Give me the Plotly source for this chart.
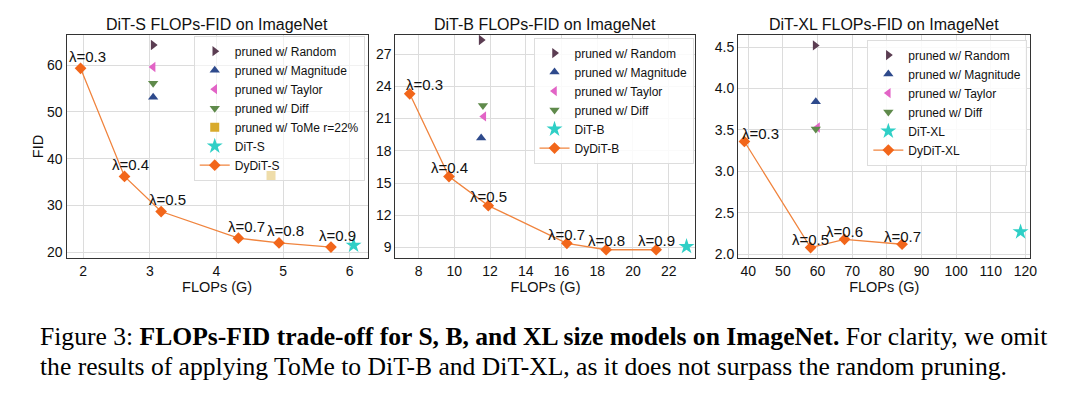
import plotly.graph_objects as go
from plotly.subplots import make_subplots

# ---------------- data ----------------
# DiT-S panel
s_dydit_flops = [1.96, 2.62, 3.17, 4.33, 4.94, 5.72]
s_dydit_fid = [59.3, 36.2, 28.7, 23.0, 22.0, 21.1]
s_lambdas = ["λ=0.3", "λ=0.4", "λ=0.5", "λ=0.7", "λ=0.8", "λ=0.9"]
s_random = (3.05, 64.3)
s_magnitude = (3.05, 53.1)
s_taylor = (3.05, 59.6)
s_diff = (3.05, 56.1)
s_tome = (4.82, 36.4)
s_dit = (6.06, 21.5)

# DiT-B panel
b_dydit_flops = [7.5, 9.7, 11.9, 16.3, 18.5, 21.3]
b_dydit_fid = [23.3, 15.6, 12.9, 9.4, 8.8, 8.8]
b_lambdas = ["λ=0.3", "λ=0.4", "λ=0.5", "λ=0.7", "λ=0.8", "λ=0.9"]
b_random = (11.5, 28.3)
b_magnitude = (11.5, 19.2)
b_taylor = (11.65, 21.2)
b_diff = (11.6, 22.2)
b_dit = (23.0, 9.1)

# DiT-XL panel
xl_dydit_flops = [38.9, 58.0, 67.8, 84.4]
xl_dydit_fid = [3.36, 2.08, 2.18, 2.12]
xl_lambdas = ["λ=0.3", "λ=0.5", "λ=0.6", "λ=0.7"]
xl_random = (59.3, 4.52)
xl_magnitude = (59.5, 3.84)
xl_taylor = (60.0, 3.53)
xl_diff = (59.5, 3.51)
xl_dit = (118.6, 2.27)

titles = ["DiT-S FLOPs-FID on ImageNet", "DiT-B FLOPs-FID on ImageNet", "DiT-XL FLOPs-FID on ImageNet"]
caption_line1 = ("Figure 3: <b>FLOPs-FID trade-off for S, B, and XL size models on ImageNet.</b> "
                 "For clarity, we omit")
caption_line2 = "the results of applying ToMe to DiT-B and DiT-XL, as it does not surpass the random pruning."

# ---------------- styles ----------------
C_RANDOM = "#5b3d52"
C_MAG = "#2e4a8c"
C_TAYLOR = "#e264c6"
C_DIFF = "#5f8a4b"
C_TOME = "#d8aa2c"
C_DIT = "#2fcfc6"
C_DYDIT = "#f2661a"
C_LINE = "#f0843e"
FONT = "Liberation Sans, Arial, sans-serif"

# label pixel offsets per panel (style only)
lab_xshift = [[7, 6, 6, 8, 6, 7], [15, 0, 0, 0, 0, 0], [16, 0, 0, 0]]
lab_yshift = [1.5, -1.5, -2.5]

fig = make_subplots(rows=1, cols=3)

def add_panel(col, legend, random, mag, taylor, diff, tome, dit, dit_name,
              fl, fid, lams, dy_name):
    xa = "x" if col == 1 else f"x{col}"
    ya = "y" if col == 1 else f"y{col}"
    def sc(pt, name, sym, color, size):
        fig.add_trace(go.Scatter(x=[pt[0]], y=[pt[1]], mode="markers", name=name,
                                 marker=dict(symbol=sym, color=color, size=size),
                                 legend=legend), row=1, col=col)
    sc(random, "pruned w/ Random", "triangle-right", C_RANDOM, 9)
    sc(mag, "pruned w/ Magnitude", "triangle-up", C_MAG, 9)
    sc(taylor, "pruned w/ Taylor", "triangle-left", C_TAYLOR, 9)
    sc(diff, "pruned w/ Diff", "triangle-down", C_DIFF, 9)
    if tome is not None:
        sc(tome, "pruned w/ ToMe r=22%", "square", C_TOME, 9)
    sc(dit, dit_name, "star", C_DIT, 12)
    fig.add_trace(go.Scatter(x=fl, y=fid, mode="lines+markers", name=dy_name,
                             line=dict(color=C_LINE, width=1.3),
                             marker=dict(symbol="diamond", color=C_DYDIT, size=9),
                             legend=legend), row=1, col=col)
    for k, (xv, yv, t) in enumerate(zip(fl, fid, lams)):
        fig.add_annotation(x=xv, y=yv, xref=xa, yref=ya, text=t, showarrow=False,
                           xanchor="center", yanchor="bottom",
                           xshift=lab_xshift[col - 1][k], yshift=lab_yshift[col - 1],
                           font=dict(family=FONT, size=15, color="#111"))

add_panel(1, "legend", s_random, s_magnitude, s_taylor, s_diff, s_tome, s_dit, "DiT-S",
          s_dydit_flops, s_dydit_fid, s_lambdas, "DyDiT-S")
add_panel(2, "legend2", b_random, b_magnitude, b_taylor, b_diff, None, b_dit, "DiT-B",
          b_dydit_flops, b_dydit_fid, b_lambdas, "DyDiT-B")
add_panel(3, "legend3", xl_random, xl_magnitude, xl_taylor, xl_diff, None, xl_dit, "DiT-XL",
          xl_dydit_flops, xl_dydit_fid, xl_lambdas, "DyDiT-XL")

ytop, ybot = 1 - 35 / 393, 1 - 261 / 393
xdoms = [(67 / 1080, 370 / 1080), (398 / 1080, 700 / 1080), (743 / 1080, 1037 / 1080)]
xranges = [[1.75, 6.27], [6.7, 23.5], [37.1, 121.4]]
yranges = [[18.7, 66.5], [8.0, 28.8], [1.95, 4.65]]
xdt = [1, 2, 10]
ydt = [10, 3, 0.5]
x0s = [2, 8, 40]
y0s = [20, 9, 2.0]
yfmt = [None, None, ".1f"]

axis_common = dict(showline=True, linecolor="#333333", linewidth=1.2, mirror=True,
                   showgrid=True, gridcolor="#dcdcdc", gridwidth=1, zeroline=False,
                   ticks="", tickfont=dict(family=FONT, size=14, color="#111"))
for i in range(3):
    sfx = "" if i == 0 else str(i + 1)
    fig.layout["xaxis" + sfx].update(domain=xdoms[i], range=xranges[i], dtick=xdt[i], tick0=x0s[i],
                                     title=dict(text="FLOPs (G)", font=dict(family=FONT, size=14.5, color="#111"), standoff=0),
                                     **axis_common)
    yd = dict(domain=[ybot, ytop], range=yranges[i], dtick=ydt[i], tick0=y0s[i], **axis_common)
    if yfmt[i]:
        yd["tickformat"] = yfmt[i]
    fig.layout["yaxis" + sfx].update(**yd)
    cx = (xdoms[i][0] + xdoms[i][1]) / 2
    fig.add_annotation(x=cx, y=ytop, xref="paper", yref="paper", text=titles[i], showarrow=False,
                       xanchor="center", yanchor="bottom", yshift=0,
                       font=dict(family=FONT, size=16, color="#111"))

fig.layout.yaxis.update(title=dict(text="FID", font=dict(family=FONT, size=14.5, color="#111"), standoff=0))

leg_common = dict(xanchor="left", yanchor="top",
                  bordercolor="#dddddd", borderwidth=1,
                  font=dict(family=FONT, size=12, color="#111"), tracegroupgap=0,
                  itemsizing="trace")
fig.update_layout(
    legend=dict(x=195 / 1080, y=1 - 36 / 393, bgcolor="rgba(255,255,255,0.6)", **leg_common),
    legend2=dict(x=537 / 1080, y=1 - 38 / 393, bgcolor="rgba(255,255,255,0.85)", **leg_common),
    legend3=dict(x=873 / 1080, y=1 - 40 / 393, bgcolor="rgba(255,255,255,0.85)", **leg_common),
)

SERIF = "Liberation Serif, Times New Roman, serif"
fig.add_annotation(x=38 / 1080, y=1 - 340 / 393, xref="paper", yref="paper", text=caption_line1,
                   showarrow=False, xanchor="left", yanchor="middle",
                   font=dict(family=SERIF, size=25.6, color="#000"))
fig.add_annotation(x=38 / 1080, y=1 - 370 / 393, xref="paper", yref="paper", text=caption_line2,
                   showarrow=False, xanchor="left", yanchor="middle",
                   font=dict(family=SERIF, size=25.6, color="#000"))

fig.update_layout(width=1080, height=393, margin=dict(l=0, r=0, t=0, b=0),
                  paper_bgcolor="white", plot_bgcolor="white", showlegend=True)

fig.write_html("out.html", config={"displayModeBar": False},
               post_script="document.body.style.margin='0';")
